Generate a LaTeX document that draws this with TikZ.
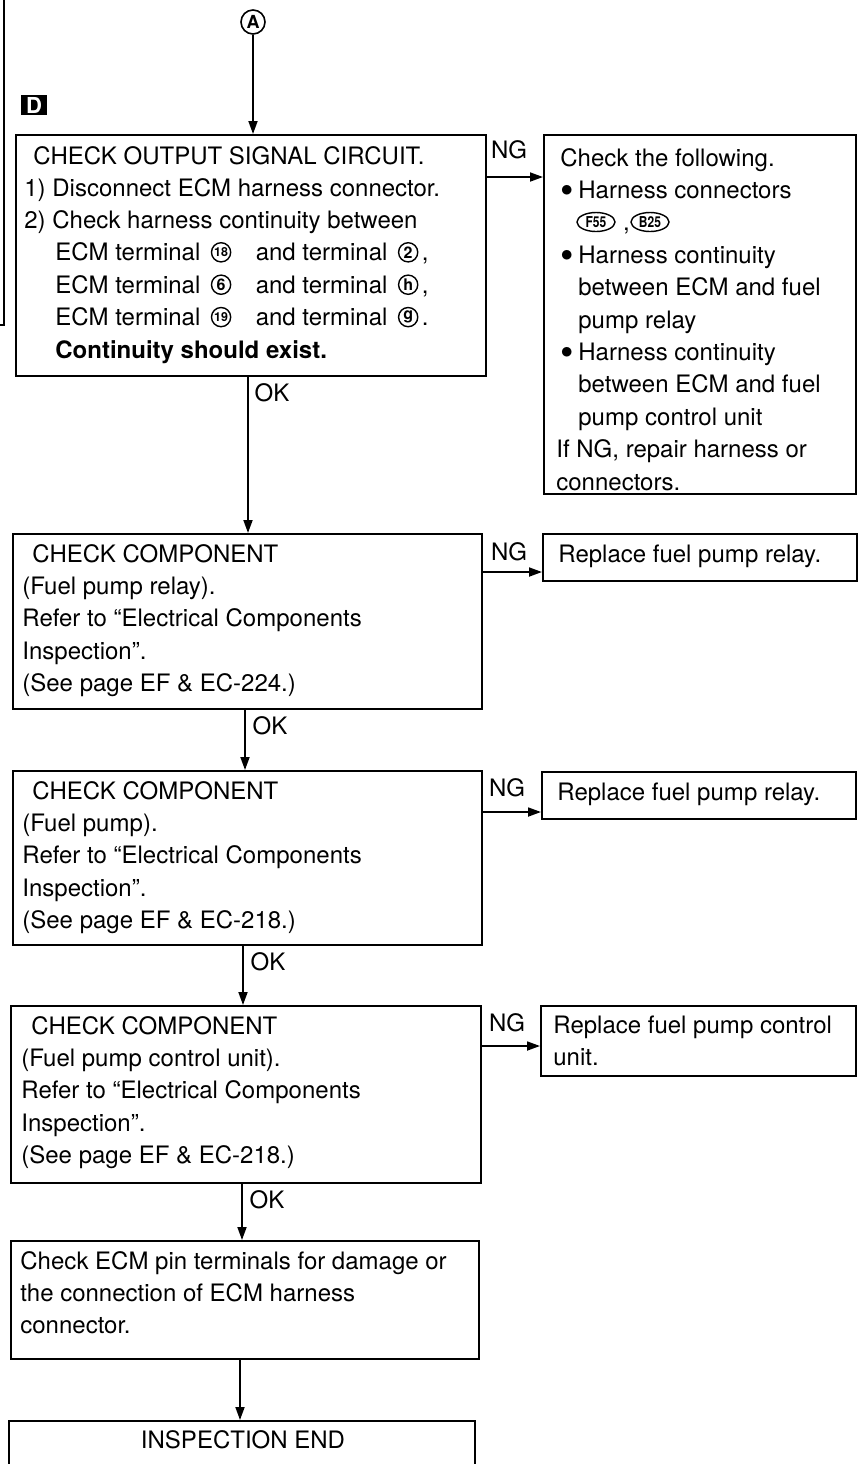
\documentclass[tikz,border=0pt]{standalone}
\usepackage{fontspec}
\usepackage{graphicx}
\setmainfont{TeX Gyre Heros}
\usetikzlibrary{arrows.meta,shapes.geometric,positioning}
% bullet item with hanging text
\newcommand\bulitem{\hspace*{2pt}\makebox[9pt][l]{\raisebox{-2.6pt}{\scalebox{1.6}{\textbullet}}}}
\begin{document}
\begin{tikzpicture}[x=0.5pt,y=-0.5pt,
  box/.style={draw, line width=1pt, rectangle, anchor=north west, inner sep=0pt},
  body/.style={anchor=north west, inner sep=0pt, align=left, font=\fontsize{12}{16.2}\selectfont},
  tx/.style={anchor=base west, inner sep=0pt, font=\fontsize{12}{16.2}\selectfont, text height=8.6pt, text depth=0pt},
  lbl/.style={inner sep=0pt, font=\fontsize{12}{14}\selectfont},
  cnum/.style={circle, draw, line width=0.7pt, inner sep=0pt, minimum size=9.6pt,
    font=\fontsize{6.2}{6.2}\selectfont\bfseries, text height=4.4pt, text depth=0pt},
  cbig/.style={cnum, font=\fontsize{8}{8}\selectfont\bfseries, text height=5.7pt},
  conn/.style={ellipse, draw, line width=0.7pt, inner sep=0pt, minimum width=19pt, minimum height=9.5pt,
    font=\fontsize{7.5}{7.5}\selectfont\bfseries, text height=5.4pt, text depth=0pt},
  arr/.style={line width=0.9pt, -{Triangle[length=6.5pt,width=4.5pt]}},
]
\useasboundingbox (0,0) rectangle (858,1464);

% side bracket of the previous column
\draw[line width=1pt] (4,0) -- (4,325) -- (0,325);

% entry marker and section tag
\node[circle, draw, line width=0.8pt, inner sep=0pt, minimum size=12pt,
      font=\bfseries\fontsize{9}{9}\selectfont] (A) at (253,22) {A};
\node[fill=black, text=white, inner sep=0pt, minimum width=13pt, minimum height=10pt,
      font=\bfseries\fontsize{11}{11}\selectfont] (D) at (34,105) {D};

% ---------------- boxes ----------------
\node[box, minimum width=235pt, minimum height=120.5pt] (b1) at (15,134) {};
\node[box, minimum width=156pt, minimum height=179.5pt] (r1) at (543,134) {};
\node[box, minimum width=234.5pt, minimum height=87.5pt] (b2) at (12,533) {};
\node[box, minimum width=157pt, minimum height=23.5pt] (r2) at (542,533) {};
\node[box, minimum width=234.5pt, minimum height=87pt] (b3) at (12,770) {};
\node[box, minimum width=157pt, minimum height=23.5pt] (r3) at (541,771) {};
\node[box, minimum width=235pt, minimum height=88.5pt] (b4) at (10,1005) {};
\node[box, minimum width=157.5pt, minimum height=35pt] (r4) at (540,1005) {};
\node[box, minimum width=234pt, minimum height=59pt] (b5) at (10,1240) {};
\node[box, minimum width=233pt, minimum height=34pt] (b6) at (8,1420) {};

% ---------------- box texts ----------------
\node[body] (t1) at (24,141) {\strut\hspace*{4.5pt}CHECK OUTPUT SIGNAL CIRCUIT.\\
  1) Disconnect ECM harness connector.\\
  2) Check harness continuity between\\
  \mbox{}\\ \mbox{}\\ \mbox{}\\
  \hspace*{15.5pt}\textbf{Continuity should exist.}};

% terminal lines with circled terminal numbers
\node[tx] (e1) at (55,260.9) {ECM terminal};
\node[cnum, right=5pt of e1] (n18) {18};
\node[tx, right=12pt of n18] (a1) {and terminal};
\node[cbig, right=5pt of a1] (n2) {2};
\node[tx, anchor=base west] (m1) at ([xshift=1.5pt]n2.east |- e1.base) {,};

\node[tx] (e2) at (55,293.3) {ECM terminal};
\node[cbig, right=5pt of e2] (n6) {6};
\node[tx, right=12pt of n6] (a2) {and terminal};
\node[cbig, right=5pt of a2] (nh) {h};
\node[tx, anchor=base west] (m2) at ([xshift=1.5pt]nh.east |- e2.base) {,};

\node[tx] (e3) at (55,325.7) {ECM terminal};
\node[cnum, right=5pt of e3] (n19) {19};
\node[tx, right=12pt of n19] (a3) {and terminal};
\node[cbig, right=5pt of a3, text height=4.3pt, text depth=1.6pt] (ng) {g};
\node[tx, anchor=base west] (m3) at ([xshift=1.5pt]ng.east |- e3.base) {.};

\node[body] (rt1) at (556,143) {\strut\hspace*{2pt}Check the following.\\
  \bulitem Harness connectors\\
  \mbox{}\\
  \bulitem Harness continuity\\
  \hspace*{11pt}between ECM and fuel\\
  \hspace*{11pt}pump relay\\
  \bulitem Harness continuity\\
  \hspace*{11pt}between ECM and fuel\\
  \hspace*{11pt}pump control unit\\
  If NG, repair harness or\\
  connectors.};

% harness connector symbols
\node[conn] (F55) at (596,222) {\scalebox{0.8}[1]{F55}};
\node[tx, anchor=base west] (mc) at ([xshift=3.5pt]F55.east |- 0,230.4) {,};
\node[conn] (B25) at (650,222) {\scalebox{0.8}[1]{B25}};

\node[body] (t2) at (22,539) {\strut\hspace*{5pt}CHECK COMPONENT\\
  (Fuel pump relay).\\
  Refer to “Electrical Components\\
  Inspection”.\\
  (See page EF \& EC-224.)};
\node[body] (rt2) at (558,539) {\strut Replace fuel pump relay.};

\node[body] (t3) at (22,776) {\strut\hspace*{5pt}CHECK COMPONENT\\
  (Fuel pump).\\
  Refer to “Electrical Components\\
  Inspection”.\\
  (See page EF \& EC-218.)};
\node[body] (rt3) at (557,777) {\strut Replace fuel pump relay.};

\node[body] (t4) at (21,1011) {\strut\hspace*{5pt}CHECK COMPONENT\\
  (Fuel pump control unit).\\
  Refer to “Electrical Components\\
  Inspection”.\\
  (See page EF \& EC-218.)};
\node[body] (rt4) at (553,1010) {\strut Replace fuel pump control\\
  unit.};

\node[body] (t5) at (20,1246) {\strut Check ECM pin terminals for damage or\\
  the connection of ECM harness\\
  connector.};

\node[lbl] (t6) at (243,1440) {INSPECTION END};

% ---------------- flow connectors ----------------
\coordinate (k1) at (248,0);
\coordinate (k2) at (245,0);
\coordinate (k3) at (243,0);
\coordinate (k4) at (242,0);
\coordinate (k5) at (240,0);

\draw[arr] (A.south) -- (A.south |- b1.north);
\draw[arr] (b1.south -| k1) -- (b2.north -| k1);
\draw[arr] (b2.south -| k2) -- (b3.north -| k2);
\draw[arr] (b3.south -| k3) -- (b4.north -| k3);
\draw[arr] (b4.south -| k4) -- (b5.north -| k4);
\draw[arr] (b5.south -| k5) -- (b6.north -| k5);

\node[lbl] (ok1) at (272,393) {OK};
\node[lbl] (ok2) at (270,726) {OK};
\node[lbl] (ok3) at (268,962) {OK};
\node[lbl] (ok4) at (267,1200) {OK};

\coordinate (g1) at (0,177);
\coordinate (g2) at (0,572);
\coordinate (g3) at (0,812);
\coordinate (g4) at (0,1046);

\draw[arr] (b1.east |- g1) -- (r1.west |- g1);
\draw[arr] (b2.east |- g2) -- (r2.west |- g2);
\draw[arr] (b3.east |- g3) -- (r3.west |- g3);
\draw[arr] (b4.east |- g4) -- (r4.west |- g4);

\node[lbl] (ng1) at (509,150) {NG};
\node[lbl] (ng2) at (509,552) {NG};
\node[lbl] (ng3) at (507,788) {NG};
\node[lbl] (ng4) at (507,1023) {NG};
\end{tikzpicture}
\end{document}
